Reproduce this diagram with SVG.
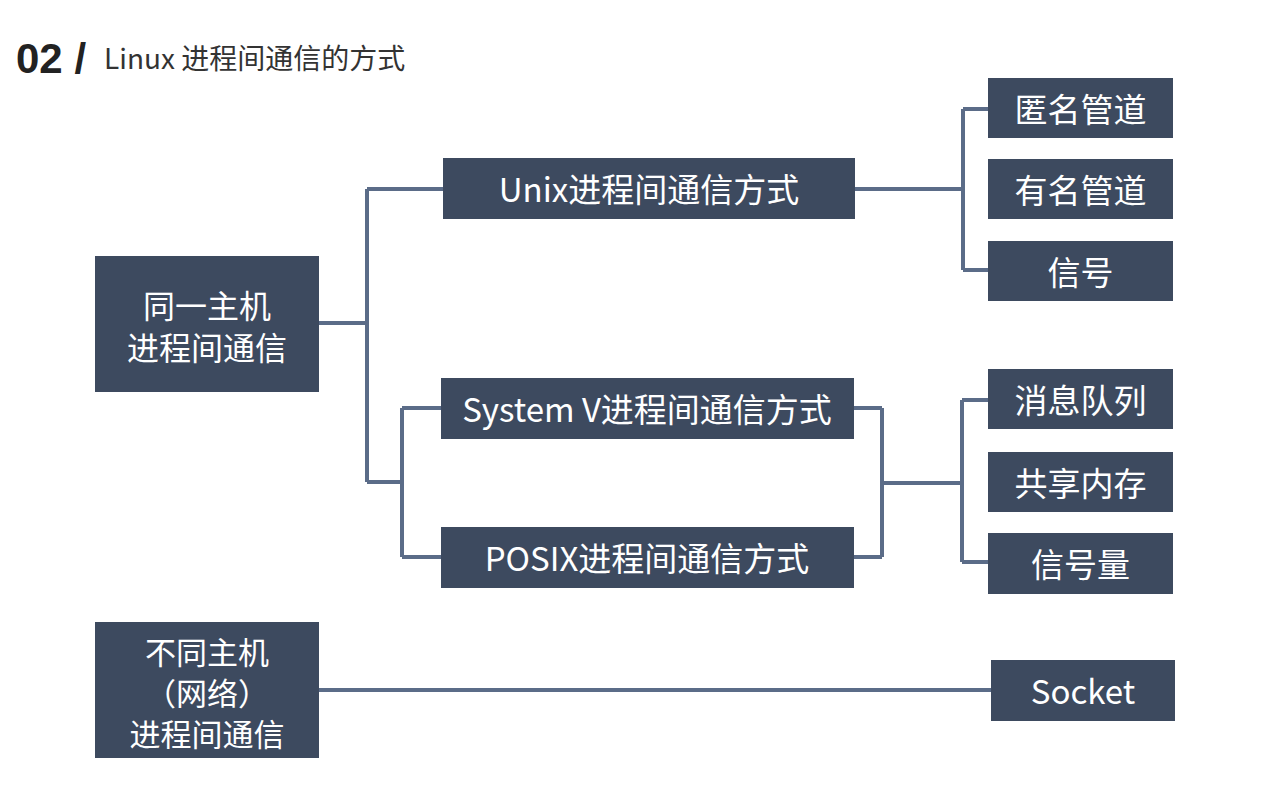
<svg xmlns="http://www.w3.org/2000/svg" width="1275" height="794" viewBox="0 0 1275 794">
<style>
.box{fill:#3d4a5f}
.t{fill:#ffffff;font-family:"Noto Sans CJK SC","Noto Sans",sans-serif;font-size:33px;text-anchor:middle;dominant-baseline:central}
.s{font-size:31px}
.m{font-size:32px}
.c{fill:none;stroke:#5b6c88;stroke-width:4}
</style>
<rect width="1275" height="794" fill="#ffffff"/>
<g id="title">
<text x="16" y="73" font-family="Liberation Sans, Arial, sans-serif" font-weight="bold" font-size="42" fill="#222">02 /</text>
<text x="104" y="69" font-family="Noto Sans CJK SC, sans-serif" font-size="28" fill="#333">Linux 进程间通信的方式</text>
</g>
<g id="connectors">
<path class="c" d="M319 323H367M367 189V482M367 189H443M367 482H402M402 408V557M402 408H441M402 557H441"/>
<path class="c" d="M855 189H963M963 109V270M963 109H988M963 270H988"/>
<path class="c" d="M854 408H882M854 557H882M882 408V557M882 483H962M962 400V562M962 400H988M962 562H988"/>
<path class="c" d="M319 690H991"/>
</g>
<g id="n_same">
<rect class="box" x="95" y="256" width="224" height="136"/>
<text class="t m" x="207" y="304">同一主机</text>
<text class="t m" x="207" y="346">进程间通信</text>
</g>
<g id="n_unix">
<rect class="box" x="443" y="158" width="412" height="61"/>
<text class="t" x="649" y="188">Unix进程间通信方式</text>
</g>
<g id="n_sysv">
<rect class="box" x="441" y="378" width="413" height="61"/>
<text class="t" x="647" y="408">System V进程间通信方式</text>
</g>
<g id="n_posix">
<rect class="box" x="441" y="527" width="413" height="61"/>
<text class="t" x="647" y="557">POSIX进程间通信方式</text>
</g>
<g id="n_anon">
<rect class="box" x="988" y="78" width="185" height="60"/>
<text class="t" x="1080.5" y="108">匿名管道</text>
</g>
<g id="n_named">
<rect class="box" x="988" y="159" width="185" height="60"/>
<text class="t" x="1080.5" y="189">有名管道</text>
</g>
<g id="n_signal">
<rect class="box" x="988" y="241" width="185" height="60"/>
<text class="t" x="1080.5" y="271">信号</text>
</g>
<g id="n_mq">
<rect class="box" x="988" y="369" width="185" height="60"/>
<text class="t" x="1080.5" y="399">消息队列</text>
</g>
<g id="n_shm">
<rect class="box" x="988" y="452" width="185" height="60"/>
<text class="t" x="1080.5" y="482">共享内存</text>
</g>
<g id="n_sem">
<rect class="box" x="988" y="533" width="185" height="61"/>
<text class="t" x="1080.5" y="563">信号量</text>
</g>
<g id="n_diff">
<rect class="box" x="95" y="622" width="224" height="136"/>
<text class="t s" x="207" y="650">不同主机</text>
<text class="t s" x="207" y="691">（网络）</text>
<text class="t s" x="207" y="732">进程间通信</text>
</g>
<g id="n_socket">
<rect class="box" x="991" y="660" width="184" height="61"/>
<text class="t" x="1083" y="690">Socket</text>
</g>
</svg>
